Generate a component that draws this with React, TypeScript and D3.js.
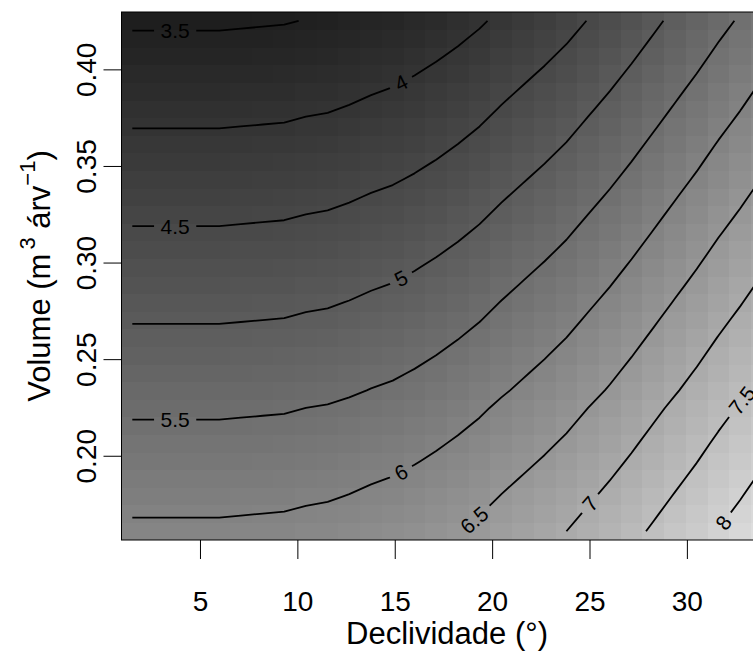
import React from 'react';
import * as d3 from 'd3';

// Slope (degrees) at the centre of each grid column
const declividade = [
  1.5, 2.61, 3.73, 4.84, 5.96, 7.07, 8.19, 9.3, 10.41, 11.53, 12.64, 13.76, 14.87, 15.99, 17.1,
  18.22, 19.33, 20.45, 21.56, 22.67, 23.79, 24.9, 26.02, 27.13, 28.25, 29.36, 30.48, 31.59, 32.71, 33.82,
];

// Tree volume (m3 per tree) at the centre of each grid row
const volume = [
  0.1612, 0.1703, 0.1794, 0.1885, 0.1976, 0.2068, 0.2159, 0.225, 0.2341, 0.2432, 0.2523, 0.2614,
  0.2705, 0.2796, 0.2887, 0.2979, 0.307, 0.3161, 0.3252, 0.3343, 0.3434, 0.3525, 0.3616, 0.3707,
  0.3798, 0.389, 0.3981, 0.4072, 0.4163, 0.4254,
];

// Predicted response, one row per volume value (lowest volume first), one column per slope value
const resposta = [
  [6.07, 6.07, 6.07, 6.07, 6.07, 6.08, 6.09, 6.1, 6.13, 6.15, 6.19, 6.24, 6.28, 6.34, 6.41, 6.49, 6.58, 6.69, 6.79, 6.89, 7.0, 7.13, 7.26, 7.4, 7.55, 7.7, 7.85, 8.01, 8.16, 8.32],
  [5.98, 5.98, 5.98, 5.98, 5.98, 5.99, 6.0, 6.01, 6.04, 6.06, 6.1, 6.15, 6.19, 6.25, 6.32, 6.4, 6.49, 6.6, 6.7, 6.8, 6.91, 7.04, 7.17, 7.31, 7.46, 7.61, 7.76, 7.92, 8.07, 8.23],
  [5.89, 5.89, 5.89, 5.89, 5.89, 5.9, 5.91, 5.92, 5.95, 5.97, 6.01, 6.06, 6.1, 6.16, 6.23, 6.31, 6.4, 6.51, 6.61, 6.71, 6.82, 6.95, 7.08, 7.22, 7.37, 7.52, 7.67, 7.83, 7.98, 8.14],
  [5.8, 5.8, 5.8, 5.8, 5.8, 5.81, 5.82, 5.83, 5.86, 5.88, 5.92, 5.97, 6.01, 6.07, 6.14, 6.22, 6.31, 6.42, 6.52, 6.62, 6.73, 6.86, 6.99, 7.13, 7.28, 7.43, 7.58, 7.74, 7.89, 8.05],
  [5.71, 5.71, 5.71, 5.71, 5.71, 5.72, 5.73, 5.74, 5.77, 5.79, 5.83, 5.88, 5.92, 5.98, 6.05, 6.13, 6.22, 6.33, 6.43, 6.53, 6.64, 6.77, 6.9, 7.04, 7.19, 7.34, 7.49, 7.65, 7.8, 7.96],
  [5.62, 5.62, 5.62, 5.62, 5.62, 5.63, 5.64, 5.65, 5.68, 5.7, 5.74, 5.79, 5.83, 5.89, 5.96, 6.04, 6.13, 6.24, 6.34, 6.44, 6.55, 6.68, 6.81, 6.95, 7.1, 7.25, 7.4, 7.56, 7.71, 7.87],
  [5.53, 5.53, 5.53, 5.53, 5.53, 5.54, 5.55, 5.56, 5.59, 5.61, 5.65, 5.7, 5.74, 5.8, 5.87, 5.95, 6.04, 6.15, 6.25, 6.35, 6.46, 6.59, 6.72, 6.86, 7.01, 7.16, 7.31, 7.47, 7.62, 7.78],
  [5.44, 5.44, 5.44, 5.44, 5.44, 5.45, 5.46, 5.47, 5.5, 5.52, 5.56, 5.61, 5.65, 5.71, 5.78, 5.86, 5.95, 6.06, 6.16, 6.26, 6.37, 6.5, 6.63, 6.77, 6.92, 7.07, 7.22, 7.38, 7.53, 7.69],
  [5.34, 5.34, 5.34, 5.34, 5.34, 5.35, 5.36, 5.37, 5.4, 5.42, 5.46, 5.51, 5.55, 5.61, 5.68, 5.76, 5.85, 5.96, 6.06, 6.16, 6.27, 6.4, 6.53, 6.67, 6.82, 6.97, 7.12, 7.28, 7.43, 7.59],
  [5.25, 5.25, 5.25, 5.25, 5.25, 5.26, 5.27, 5.28, 5.31, 5.33, 5.37, 5.42, 5.46, 5.52, 5.59, 5.67, 5.76, 5.87, 5.97, 6.07, 6.18, 6.31, 6.44, 6.58, 6.73, 6.88, 7.03, 7.19, 7.34, 7.5],
  [5.16, 5.16, 5.16, 5.16, 5.16, 5.17, 5.18, 5.19, 5.22, 5.24, 5.28, 5.33, 5.37, 5.43, 5.5, 5.58, 5.67, 5.78, 5.88, 5.98, 6.09, 6.22, 6.35, 6.49, 6.64, 6.79, 6.94, 7.1, 7.25, 7.41],
  [5.07, 5.07, 5.07, 5.07, 5.07, 5.08, 5.09, 5.1, 5.13, 5.15, 5.19, 5.24, 5.28, 5.34, 5.41, 5.49, 5.58, 5.69, 5.79, 5.89, 6.0, 6.13, 6.26, 6.4, 6.55, 6.7, 6.85, 7.01, 7.16, 7.32],
  [4.98, 4.98, 4.98, 4.98, 4.98, 4.99, 5.0, 5.01, 5.04, 5.06, 5.1, 5.15, 5.19, 5.25, 5.32, 5.4, 5.49, 5.6, 5.7, 5.8, 5.91, 6.04, 6.17, 6.31, 6.46, 6.61, 6.76, 6.92, 7.07, 7.23],
  [4.89, 4.89, 4.89, 4.89, 4.89, 4.9, 4.91, 4.92, 4.95, 4.97, 5.01, 5.06, 5.1, 5.16, 5.23, 5.31, 5.4, 5.51, 5.61, 5.71, 5.82, 5.95, 6.08, 6.22, 6.37, 6.52, 6.67, 6.83, 6.98, 7.14],
  [4.8, 4.8, 4.8, 4.8, 4.8, 4.81, 4.82, 4.83, 4.86, 4.88, 4.92, 4.97, 5.01, 5.07, 5.14, 5.22, 5.31, 5.42, 5.52, 5.62, 5.73, 5.86, 5.99, 6.13, 6.28, 6.43, 6.58, 6.74, 6.89, 7.05],
  [4.71, 4.71, 4.71, 4.71, 4.71, 4.72, 4.73, 4.74, 4.77, 4.79, 4.83, 4.88, 4.92, 4.98, 5.05, 5.13, 5.22, 5.33, 5.43, 5.53, 5.64, 5.77, 5.9, 6.04, 6.19, 6.34, 6.49, 6.65, 6.8, 6.96],
  [4.62, 4.62, 4.62, 4.62, 4.62, 4.63, 4.64, 4.65, 4.68, 4.7, 4.74, 4.79, 4.83, 4.89, 4.96, 5.04, 5.13, 5.24, 5.34, 5.44, 5.55, 5.68, 5.81, 5.95, 6.1, 6.25, 6.4, 6.56, 6.71, 6.87],
  [4.53, 4.53, 4.53, 4.53, 4.53, 4.54, 4.55, 4.56, 4.59, 4.61, 4.65, 4.7, 4.74, 4.8, 4.87, 4.95, 5.04, 5.15, 5.25, 5.35, 5.46, 5.59, 5.72, 5.86, 6.01, 6.16, 6.31, 6.47, 6.62, 6.78],
  [4.44, 4.44, 4.44, 4.44, 4.44, 4.45, 4.46, 4.47, 4.5, 4.52, 4.56, 4.61, 4.65, 4.71, 4.78, 4.86, 4.95, 5.06, 5.16, 5.26, 5.37, 5.5, 5.63, 5.77, 5.92, 6.07, 6.22, 6.38, 6.53, 6.69],
  [4.35, 4.35, 4.35, 4.35, 4.35, 4.36, 4.37, 4.38, 4.41, 4.43, 4.47, 4.52, 4.56, 4.62, 4.69, 4.77, 4.86, 4.97, 5.07, 5.17, 5.28, 5.41, 5.54, 5.68, 5.83, 5.98, 6.13, 6.29, 6.44, 6.6],
  [4.26, 4.26, 4.26, 4.26, 4.26, 4.27, 4.28, 4.29, 4.32, 4.34, 4.38, 4.43, 4.47, 4.53, 4.6, 4.68, 4.77, 4.88, 4.98, 5.08, 5.19, 5.32, 5.45, 5.59, 5.74, 5.89, 6.04, 6.2, 6.35, 6.51],
  [4.17, 4.17, 4.17, 4.17, 4.17, 4.18, 4.19, 4.2, 4.23, 4.25, 4.29, 4.34, 4.38, 4.44, 4.51, 4.59, 4.68, 4.79, 4.89, 4.99, 5.1, 5.23, 5.36, 5.5, 5.65, 5.8, 5.95, 6.11, 6.26, 6.42],
  [4.08, 4.08, 4.08, 4.08, 4.08, 4.09, 4.1, 4.11, 4.14, 4.16, 4.2, 4.25, 4.29, 4.35, 4.42, 4.5, 4.59, 4.7, 4.8, 4.9, 5.01, 5.14, 5.27, 5.41, 5.56, 5.71, 5.86, 6.02, 6.17, 6.33],
  [3.99, 3.99, 3.99, 3.99, 3.99, 4.0, 4.01, 4.02, 4.05, 4.07, 4.11, 4.16, 4.2, 4.26, 4.33, 4.41, 4.5, 4.61, 4.71, 4.81, 4.92, 5.05, 5.18, 5.32, 5.47, 5.62, 5.77, 5.93, 6.08, 6.24],
  [3.9, 3.9, 3.9, 3.9, 3.9, 3.91, 3.92, 3.93, 3.96, 3.98, 4.02, 4.07, 4.11, 4.17, 4.24, 4.32, 4.41, 4.52, 4.62, 4.72, 4.83, 4.96, 5.09, 5.23, 5.38, 5.53, 5.68, 5.84, 5.99, 6.15],
  [3.81, 3.81, 3.81, 3.81, 3.81, 3.82, 3.83, 3.84, 3.87, 3.89, 3.93, 3.98, 4.02, 4.08, 4.15, 4.23, 4.32, 4.43, 4.53, 4.63, 4.74, 4.87, 5.0, 5.14, 5.29, 5.44, 5.59, 5.75, 5.9, 6.06],
  [3.72, 3.72, 3.72, 3.72, 3.72, 3.73, 3.74, 3.75, 3.78, 3.8, 3.84, 3.89, 3.93, 3.99, 4.06, 4.14, 4.23, 4.34, 4.44, 4.54, 4.65, 4.78, 4.91, 5.05, 5.2, 5.35, 5.5, 5.66, 5.81, 5.97],
  [3.63, 3.63, 3.63, 3.63, 3.63, 3.64, 3.65, 3.66, 3.69, 3.71, 3.75, 3.8, 3.84, 3.9, 3.97, 4.05, 4.14, 4.25, 4.35, 4.45, 4.56, 4.69, 4.82, 4.96, 5.11, 5.26, 5.41, 5.57, 5.72, 5.88],
  [3.54, 3.54, 3.54, 3.54, 3.54, 3.55, 3.56, 3.57, 3.6, 3.62, 3.66, 3.71, 3.75, 3.81, 3.88, 3.96, 4.05, 4.16, 4.26, 4.36, 4.47, 4.6, 4.73, 4.87, 5.02, 5.17, 5.32, 5.48, 5.63, 5.79],
  [3.45, 3.45, 3.45, 3.45, 3.45, 3.46, 3.47, 3.48, 3.51, 3.53, 3.57, 3.62, 3.66, 3.72, 3.79, 3.87, 3.96, 4.07, 4.17, 4.27, 4.38, 4.51, 4.64, 4.78, 4.93, 5.08, 5.23, 5.39, 5.54, 5.7],
];

const niveis = [3.5, 4, 4.5, 5, 5.5, 6, 6.5, 7, 7.5, 8];
const xTicks = [5, 10, 15, 20, 25, 30];
const yTicks = [0.2, 0.25, 0.3, 0.35, 0.4];

// Slope value along each contour where its label is written
const labelSlope = [3.7, 15.3, 3.7, 15.3, 3.7, 15.3, 19.05, 25.0, 32.8, 31.85];

const W = 753;
const H = 651;
const FONT = "'Liberation Sans', Arial, Helvetica, sans-serif";
const TICK_SIZE = 28;
const TITLE_SIZE = 31;
const LABEL_SIZE = 21;

const PLOT_LEFT = 121.5;
const PLOT_RIGHT = 772.6;
const PLOT_TOP = 12;
const PLOT_BOTTOM = 540;

type Pt = [number, number];

// Cell edges: midpoints between centres, extended half a step past each end
function edges(c: number[]): number[] {
  const e: number[] = [c[0] - (c[1] - c[0]) / 2];
  for (let i = 0; i < c.length - 1; i++) e.push((c[i] + c[i + 1]) / 2);
  e.push(c[c.length - 1] + (c[c.length - 1] - c[c.length - 2]) / 2);
  return e;
}

function interp(c: number[], t: number): number {
  const i = Math.max(0, Math.min(c.length - 2, Math.floor(t)));
  const f = t - i;
  return c[i] + f * (c[i + 1] - c[i]);
}

// Turn a closed d3 contour ring into open lines by dropping the points on the grid border
function openLines(ring: Pt[], n: number, m: number): Pt[][] {
  const pts = ring.slice(0, -1);
  const onBorder = (p: Pt) => p[0] <= 0 || p[0] >= n || p[1] <= 0 || p[1] >= m;
  const start = pts.findIndex(onBorder);
  if (start < 0) return [[...pts, pts[0]]];
  const out: Pt[][] = [];
  let cur: Pt[] = [];
  for (let k = 1; k <= pts.length; k++) {
    const p = pts[(start + k) % pts.length];
    if (onBorder(p)) {
      if (cur.length > 1) out.push(cur);
      cur = [];
    } else cur.push(p);
  }
  if (cur.length > 1) out.push(cur);
  return out;
}

function pointAt(line: Pt[], cum: number[], s: number): Pt {
  const total = cum[cum.length - 1];
  const ss = Math.max(0, Math.min(total, s));
  let k = 0;
  while (k < cum.length - 2 && cum[k + 1] < ss) k++;
  const seg = cum[k + 1] - cum[k] || 1;
  const t = (ss - cum[k]) / seg;
  return [line[k][0] + t * (line[k + 1][0] - line[k][0]), line[k][1] + t * (line[k + 1][1] - line[k][1])];
}

export default function App() {
  const xe = edges(declividade);
  const ye = edges(volume);
  const x = d3.scaleLinear().domain([xe[0], xe[xe.length - 1]]).range([PLOT_LEFT, PLOT_RIGHT]);
  const y = d3.scaleLinear().domain([ye[0], ye[ye.length - 1]]).range([PLOT_BOTTOM, PLOT_TOP]);

  const flat = resposta.flat();
  const grey = d3
    .scaleLinear()
    .domain([d3.min(flat) as number, d3.max(flat) as number])
    .range([30, 222]);
  const fill = (v: number) => {
    const g = Math.round(grey(v));
    return d3.rgb(g, g, g).formatHex();
  };

  const n = declividade.length;
  const m = volume.length;
  const contours = d3.contours().size([n, m]).thresholds(niveis)(flat);

  const toPx = (p: Pt): Pt => [x(interp(declividade, p[0] - 0.5)), y(interp(volume, p[1] - 0.5))];

  const lineGen = d3.line<Pt>();
  const paths: { level: number; lines: Pt[][] }[] = contours.map((c) => {
    const lines: Pt[][] = [];
    c.coordinates.forEach((poly) =>
      poly.forEach((ring) => openLines(ring as Pt[], n, m).forEach((l) => lines.push(l.map(toPx))))
    );
    return { level: c.value, lines };
  });

  // Label position and angle on each contour
  const labels = paths
    .map((p, idx) => {
      const ax = x(labelSlope[idx]);
      for (const line of p.lines) {
        const cum = [0];
        for (let k = 1; k < line.length; k++)
          cum.push(cum[k - 1] + Math.hypot(line[k][0] - line[k - 1][0], line[k][1] - line[k - 1][1]));
        for (let k = 0; k < line.length - 1; k++) {
          const [x0] = line[k];
          const [x1] = line[k + 1];
          if (x0 !== x1 && (x0 - ax) * (x1 - ax) <= 0) {
            const t = (ax - x0) / (x1 - x0);
            const s = cum[k] + t * (cum[k + 1] - cum[k]);
            const a = pointAt(line, cum, s - 14);
            const b = pointAt(line, cum, s + 14);
            let ang = (Math.atan2(b[1] - a[1], b[0] - a[0]) * 180) / Math.PI;
            if (ang > 90) ang -= 180;
            if (ang < -90) ang += 180;
            const c = pointAt(line, cum, s);
            const text = String(p.level);
            const w = text.length === 1 ? LABEL_SIZE * 0.56 : LABEL_SIZE * 1.39;
            return { x: c[0], y: c[1], ang, text, w };
          }
        }
      }
      return null;
    })
    .filter(Boolean) as { x: number; y: number; ang: number; text: string; w: number }[];

  return (
    <svg
      width={W}
      height={H}
      viewBox={`0 0 ${W} ${H}`}
      style={{ position: 'absolute', left: 0, top: 0, display: 'block', background: '#fff' }}
      fontFamily={FONT}
    >
      <defs>
        <clipPath id="plotArea">
          <rect x={PLOT_LEFT} y={PLOT_TOP} width={PLOT_RIGHT - PLOT_LEFT} height={PLOT_BOTTOM - PLOT_TOP} />
        </clipPath>
        <mask id="labelGaps" maskUnits="userSpaceOnUse" x={0} y={0} width={W} height={H}>
          <rect x={0} y={0} width={W} height={H} fill="#fff" />
          {labels.map((l, i) => (
            <rect
              key={i}
              transform={`translate(${l.x},${l.y}) rotate(${l.ang})`}
              x={-(l.w + 13) / 2}
              y={-LABEL_SIZE * 0.45}
              width={l.w + 13}
              height={LABEL_SIZE * 0.9}
              fill="#000"
            />
          ))}
        </mask>
      </defs>

      <g clipPath="url(#plotArea)">
        <g shapeRendering="crispEdges">
          {resposta.map((row, j) =>
            row.map((v, i) => (
              <rect
                key={`${i}-${j}`}
                x={x(xe[i])}
                y={y(ye[j + 1])}
                width={x(xe[i + 1]) - x(xe[i]) + 0.5}
                height={y(ye[j]) - y(ye[j + 1]) + 0.5}
                fill={fill(v)}
              />
            ))
          )}
        </g>
        <g mask="url(#labelGaps)" fill="none" stroke="#000" strokeWidth={1.8} strokeLinejoin="round">
          {paths.map((p) => p.lines.map((l, k) => <path key={`${p.level}-${k}`} d={lineGen(l) || ''} />))}
        </g>
        {labels.map((l, i) => (
          <text
            key={i}
            transform={`translate(${l.x},${l.y}) rotate(${l.ang})`}
            textAnchor="middle"
            dy="0.36em"
            fontSize={LABEL_SIZE}
            fill="#000"
          >
            {l.text}
          </text>
        ))}
      </g>

      <rect
        x={PLOT_LEFT}
        y={PLOT_TOP}
        width={PLOT_RIGHT - PLOT_LEFT}
        height={PLOT_BOTTOM - PLOT_TOP}
        fill="none"
        stroke="#000"
        strokeWidth={1}
      />

      {/* x axis */}
      <g>
        {xTicks.map((t) => (
          <g key={t}>
            <line x1={x(t)} x2={x(t)} y1={PLOT_BOTTOM} y2={PLOT_BOTTOM + 19} stroke="#000" strokeWidth={1} />
            <text x={x(t)} y={611} textAnchor="middle" fontSize={TICK_SIZE} fill="#000">
              {t}
            </text>
          </g>
        ))}
        <text x={(PLOT_LEFT + PLOT_RIGHT) / 2} y={644} textAnchor="middle" fontSize={TITLE_SIZE} fill="#000">
          Declividade (°)
        </text>
      </g>

      {/* y axis */}
      <g>
        {yTicks.map((t) => (
          <g key={t}>
            <line x1={PLOT_LEFT} x2={PLOT_LEFT - 18} y1={y(t)} y2={y(t)} stroke="#000" strokeWidth={1} />
            <text
              transform={`translate(86,${y(t)}) rotate(-90)`}
              textAnchor="middle"
              dy="0.36em"
              fontSize={TICK_SIZE}
              fill="#000"
            >
              {d3.format('.2f')(t)}
            </text>
          </g>
        ))}
        <text
          transform={`translate(39,${(PLOT_TOP + PLOT_BOTTOM) / 2}) rotate(-90)`}
          textAnchor="middle"
          dy="0.36em"
          fontSize={TITLE_SIZE}
          fill="#000"
        >
          Volume (m
          <tspan dx={4} dy={-15} fontSize={22}>
            3
          </tspan>
          <tspan dy={15}> árv</tspan>
          <tspan dy={-15} fontSize={22}>
            −1
          </tspan>
          <tspan dy={15}>)</tspan>
        </text>
      </g>
    </svg>
  );
}
